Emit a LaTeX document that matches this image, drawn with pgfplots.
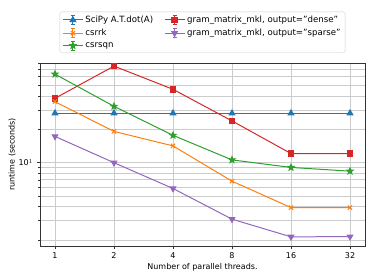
\documentclass[border=0pt]{standalone}
\usepackage{pgfplots}
\pgfplotsset{compat=1.18}
\usepackage{fontspec}
\setmainfont{DejaVu Sans}
\definecolor{c1}{HTML}{1F77B4}
\definecolor{c2}{HTML}{FF7F0E}
\definecolor{c3}{HTML}{2CA02C}
\definecolor{c4}{HTML}{D62728}
\definecolor{c5}{HTML}{9467BD}
\pgfdeclareplotmark{fstar}{%
  \pgfpathmoveto{\pgfqpointpolar{90}{\pgfplotmarksize}}%
  \pgfpathlineto{\pgfqpointpolar{126}{0.42\pgfplotmarksize}}%
  \pgfpathlineto{\pgfqpointpolar{162}{\pgfplotmarksize}}%
  \pgfpathlineto{\pgfqpointpolar{198}{0.42\pgfplotmarksize}}%
  \pgfpathlineto{\pgfqpointpolar{234}{\pgfplotmarksize}}%
  \pgfpathlineto{\pgfqpointpolar{270}{0.42\pgfplotmarksize}}%
  \pgfpathlineto{\pgfqpointpolar{306}{\pgfplotmarksize}}%
  \pgfpathlineto{\pgfqpointpolar{342}{0.42\pgfplotmarksize}}%
  \pgfpathlineto{\pgfqpointpolar{18}{\pgfplotmarksize}}%
  \pgfpathlineto{\pgfqpointpolar{54}{0.42\pgfplotmarksize}}%
  \pgfpathclose
  \pgfusepathqfillstroke}
\begin{document}
\begin{tikzpicture}
\path[use as bounding box] (-40pt,-34pt) rectangle (334pt,246pt);
\begin{axis}[
  at={(0pt,0pt)}, anchor=south west,
  scale only axis, width=325pt, height=183pt,
  ymode=log, ymin=1.76, ymax=80,
  xmin=-0.254, xmax=5.254,
  xtick={0,1,2,3,4,5}, xticklabels={1,2,4,8,16,32},
  ytick={10}, yticklabels={10$^1$},
  minor ytick={2,3,4,5,6,7,8,9,20,30,40,50,60,70,80},
  font=\fontsize{8}{9}\selectfont,
  tick label style={font=\fontsize{8}{9}\selectfont},
  /pgf/number format/assume math mode=true,
  tick align=outside, major tick length=3.5pt, minor tick length=2pt,
  tick style={black!80, line width=0.6pt},
  axis line style={black!80, line width=0.6pt},
  xtick pos=bottom, ytick pos=left,
  grid=both,
  major grid style={gray!40, line width=0.7pt},
  minor grid style={gray!40, line width=0.7pt},
  xlabel={Number of parallel threads.},
  ylabel={runtime (seconds)},
  every axis x label/.style={at={(axis description cs:0.5,-0.115)}, anchor=center},
  every axis y label/.style={at={(axis description cs:-0.086,0.5)}, rotate=90, anchor=center},
  legend columns=2,
  legend cell align=left,
  legend style={at={(axis description cs:0.5,1.055)}, anchor=south,
    font=\fontsize{8.6}{10}\selectfont, draw=black!20, rounded corners=1.5pt,
    /tikz/every even column/.append style={column sep=9pt},
    row sep=1.2pt,
    inner xsep=2.5pt, inner ysep=2pt},
  legend image code/.code={%
    \draw[#1,mark=none] (0pt,0pt) -- (20pt,0pt);
    \draw[#1,mark=none,solid] (10pt,-4.5pt) -- (10pt,4.5pt);
    \draw[#1,mark=none,solid] (8pt,-4.5pt) -- (12pt,-4.5pt);
    \draw[#1,mark=none,solid] (8pt,4.5pt) -- (12pt,4.5pt);
    \draw[#1] plot coordinates {(10pt,0pt)};
  },
  every axis plot/.append style={line width=1pt},
]
\addplot[c1, mark=triangle*, mark size=3.2pt] coordinates {(0,28.1)(1,28.1)(2,28.1)(3,28.1)(4,28.1)(5,28.1)};
\addlegendentry{SciPy A.T.dot(A)}
\addplot[c4, mark=square*, mark size=2.8pt] coordinates {(0,38.3)(1,75)(2,46.2)(3,23.9)(4,12.1)(5,12.1)};
\addlegendentry{gram\_matrix\_mkl, output="dense"}
\addplot[c2, mark=x, mark size=3pt] coordinates {(0,35.7)(1,19.2)(2,14.2)(3,6.8)(4,3.92)(5,3.92)};
\addlegendentry{csrrk}
\addplot[c5, mark=triangle*, mark size=3.2pt, mark options={rotate=180}] coordinates {(0,17.3)(1,10)(2,5.84)(3,3.08)(4,2.13)(5,2.14)};
\addlegendentry{gram\_matrix\_mkl, output="sparse"}
\addplot[c3, mark=fstar, mark size=3.2pt] coordinates {(0,63.4)(1,32.4)(2,17.7)(3,10.6)(4,9.06)(5,8.38)};
\addlegendentry{csrsqn}
\end{axis}
\end{tikzpicture}
\end{document}
